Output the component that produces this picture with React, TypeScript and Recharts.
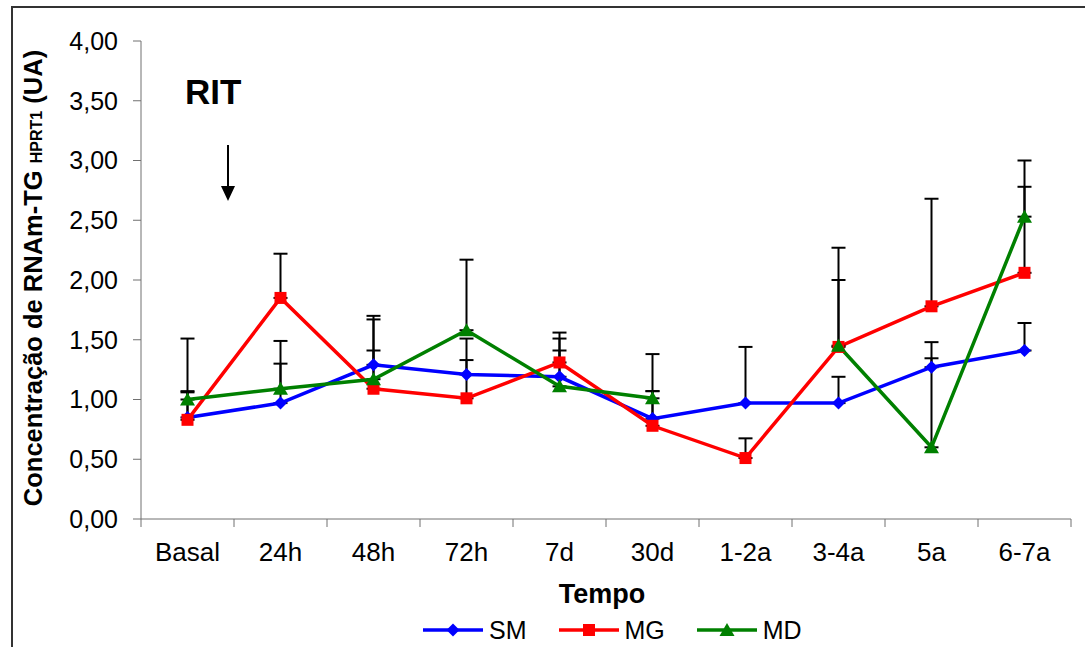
import React from 'react';
import { LineChart, Line, XAxis, YAxis, ErrorBar, Legend, Label } from 'recharts';

const categories = ['Basal', '24h', '48h', '72h', '7d', '30d', '1-2a', '3-4a', '5a', '6-7a'];

const smValues = [0.85, 0.97, 1.29, 1.21, 1.19, 0.84, 0.97, 0.97, 1.27, 1.41];
const mgValues = [0.83, 1.85, 1.09, 1.01, 1.31, 0.78, 0.51, 1.44, 1.78, 2.06];
const mdValues = [1.0, 1.09, 1.17, 1.58, 1.11, 1.01, null, 1.45, 0.6, 2.53];

// upper error (SD) only, as in the original
const smErrors = [0.22, 0.33, 0.41, 0.3, 0.32, 0.23, 0.47, 0.22, 0.21, 0.23];
const mgErrors = [0.23, 0.37, 0.32, 0.32, 0.25, 0.29, 0.165, 0.56, 0.9, 0.72];
const mdErrors = [0.51, 0.4, 0.5, 0.59, 0.3, 0.37, null, 0.82, 0.745, 0.47];

const yTicks = [0, 0.5, 1, 1.5, 2, 2.5, 3, 3.5, 4];

const FONT = '"Liberation Sans", Arial, Helvetica, sans-serif';
const AXIS_GREY = '#707070';

const data = categories.map((cat, i) => ({
  cat,
  pos: i + 0.5,
  sm: smValues[i],
  mg: mgValues[i],
  md: mdValues[i],
  smErr: [0, smErrors[i]],
  mgErr: [0, mgErrors[i]],
  mdErr: mdErrors[i] == null ? undefined : [0, mdErrors[i]],
}));

const boundaryTicks = categories.map((_, i) => i).concat([categories.length]);
const centerTicks = categories.map((_, i) => i + 0.5);

function diamondPath(cx: number, cy: number, r: number) {
  return `${cx},${cy - r} ${cx + r},${cy} ${cx},${cy + r} ${cx - r},${cy}`;
}
function trianglePath(cx: number, cy: number) {
  return `${cx},${cy - 7} ${cx + 7.5},${cy + 6} ${cx - 7.5},${cy + 6}`;
}

const DiamondDot = (props: any) => {
  const { cx, cy, index } = props;
  if (cx == null || cy == null) return <g key={`d${index}`} />;
  return <polygon key={`d${index}`} points={diamondPath(cx, cy, 6.5)} fill="#0000ff" />;
};
const SquareDot = (props: any) => {
  const { cx, cy, index } = props;
  if (cx == null || cy == null) return <g key={`s${index}`} />;
  return <rect key={`s${index}`} x={cx - 6} y={cy - 6} width={12} height={12} fill="#ff0000" />;
};
const TriangleDot = (props: any) => {
  const { cx, cy, index } = props;
  if (cx == null || cy == null) return <g key={`t${index}`} />;
  return <polygon key={`t${index}`} points={trianglePath(cx, cy)} fill="#008000" />;
};

const EmptyTick = () => <g />;

const legendItems = [
  { name: 'SM', color: '#0000ff', shape: 'diamond' },
  { name: 'MG', color: '#ff0000', shape: 'square' },
  { name: 'MD', color: '#008000', shape: 'triangle' },
];

function renderLegend() {
  return (
    <div style={{ display: 'flex', alignItems: 'center', paddingLeft: 422, height: 34, fontFamily: FONT }}>
      {legendItems.map((it) => (
        <div key={it.name} style={{ display: 'flex', alignItems: 'center', marginRight: 31 }}>
          <svg width={62} height={20}>
            <line x1={1} y1={10} x2={61} y2={10} stroke={it.color} strokeWidth={3.5} />
            {it.shape === 'diamond' && <polygon points={diamondPath(31, 10, 6.5)} fill={it.color} />}
            {it.shape === 'square' && <rect x={25} y={4} width={12} height={12} fill={it.color} />}
            {it.shape === 'triangle' && <polygon points={trianglePath(31, 10)} fill={it.color} />}
          </svg>
          <span style={{ fontSize: 25, marginLeft: 5, color: '#000' }}>{it.name}</span>
        </div>
      ))}
    </div>
  );
}

const YTitle = (props: any) => {
  const vb = props.viewBox;
  const x = vb.x + 42;
  const y = vb.y + vb.height / 2 - 2;
  return (
    <text x={x} y={y} transform={`rotate(-90, ${x}, ${y})`} textAnchor="middle" fontSize={25.5} fontWeight="bold" fontFamily={FONT} fill="#000">
      Concentração de RNAm-TG <tspan fontSize={16}>HPRT1</tspan> (UA)
    </text>
  );
};

const XTitle = (props: any) => {
  const vb = props.viewBox;
  const x = vb.x + vb.width / 2 - 4;
  return (
    <text x={x} y={vb.y + 74} textAnchor="middle" fontSize={27} fontWeight="bold" fontFamily={FONT} fill="#000">
      Tempo
    </text>
  );
};

export default function App() {
  return (
    <div style={{ position: 'fixed', left: 0, top: 0, width: 1085, height: 647, background: '#fff', overflow: 'hidden', fontFamily: FONT }}>
      <div style={{ position: 'absolute', left: 11, top: 6, width: 1200, height: 800, borderLeft: '2px solid #333', borderTop: '2px solid #333' }} />
      <div style={{ position: 'absolute', left: 0, top: 0 }}>
        <LineChart width={1085} height={647} data={data} margin={{ top: 41, right: 14, bottom: 0, left: 0 }}>
          <YAxis
            type="number"
            domain={[0, 4]}
            allowDataOverflow
            ticks={yTicks}
            interval={0}
            width={141}
            stroke={AXIS_GREY}
            tickSize={8}
            tickMargin={15}
            tickFormatter={(v: number) => v.toFixed(2).replace('.', ',')}
            tick={{ fontSize: 25, fill: '#000', fontFamily: FONT }}
          >
            <Label content={YTitle} />
          </YAxis>
          <XAxis
            xAxisId="ax0"
            dataKey="pos"
            type="number"
            domain={[0, categories.length]}
            allowDataOverflow
            ticks={boundaryTicks}
            interval={0}
            height={10}
            stroke={AXIS_GREY}
            tickSize={8}
            tickLine={{ stroke: AXIS_GREY }}
            tick={EmptyTick}
          />
          <XAxis
            xAxisId="ax1"
            dataKey="pos"
            type="number"
            domain={[0, categories.length]}
            allowDataOverflow
            ticks={centerTicks}
            interval={0}
            height={84}
            axisLine={false}
            tickLine={false}
            tickSize={0}
            tickMargin={14}
            tickFormatter={(v: number) => categories[Math.floor(v)]}
            tick={{ fontSize: 26, fill: '#000', fontFamily: FONT }}
          >
            <Label content={XTitle} />
          </XAxis>
          <Legend verticalAlign="bottom" height={34} content={renderLegend} />
          <Line xAxisId="ax0" dataKey="sm" name="SM" stroke="#0000ff" strokeWidth={3.5} dot={DiamondDot} activeDot={false} isAnimationActive={false}>
            <ErrorBar dataKey="smErr" direction="y" width={7} strokeWidth={2} stroke="#000" />
          </Line>
          <Line xAxisId="ax0" dataKey="mg" name="MG" stroke="#ff0000" strokeWidth={3.5} dot={SquareDot} activeDot={false} isAnimationActive={false}>
            <ErrorBar dataKey="mgErr" direction="y" width={7} strokeWidth={2} stroke="#000" />
          </Line>
          <Line xAxisId="ax0" dataKey="md" name="MD" stroke="#008000" strokeWidth={3.5} dot={TriangleDot} activeDot={false} isAnimationActive={false}>
            <ErrorBar dataKey="mdErr" direction="y" width={7} strokeWidth={2} stroke="#000" />
          </Line>
        </LineChart>
      </div>
      <svg width={1085} height={647} style={{ position: 'absolute', left: 0, top: 0, pointerEvents: 'none' }}>
        <text x={185} y={104} fontSize={35} fontWeight="bold" fontFamily={FONT} fill="#000">RIT</text>
        <line x1={228} y1={145} x2={228} y2={188} stroke="#000" strokeWidth={2} />
        <polygon points="221,186 235,186 228,201" fill="#000" />
      </svg>
    </div>
  );
}
